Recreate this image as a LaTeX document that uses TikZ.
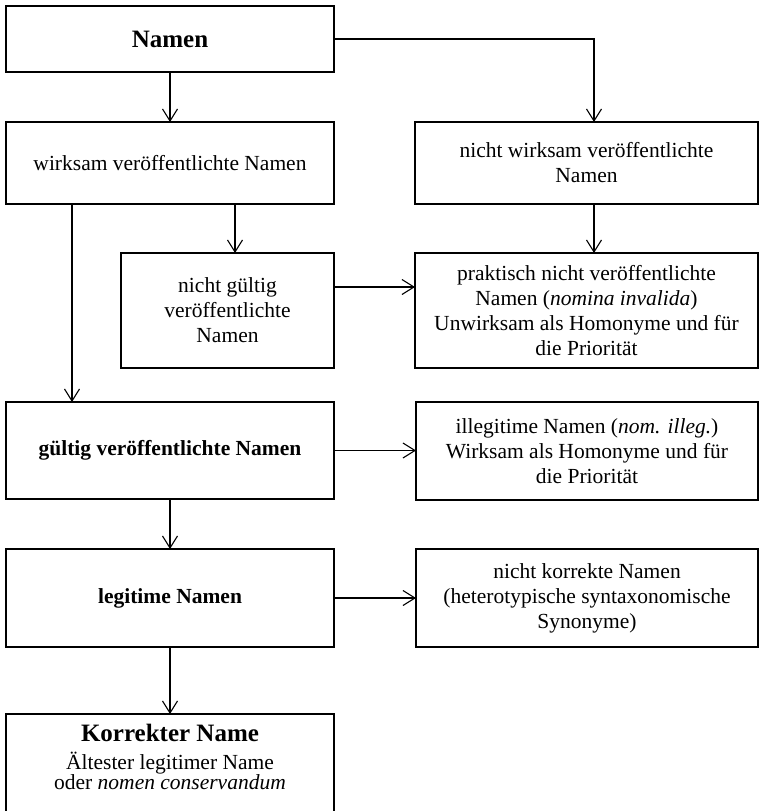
\documentclass[tikz,border=0pt]{standalone}
\usepackage{fontspec}
\setmainfont{Liberation Serif}
\usetikzlibrary{arrows.meta}
\begin{document}
\begin{tikzpicture}[x=1pt,y=-1pt,
  box/.style={draw=black,line width=1.2pt,rectangle,inner sep=0pt,outer sep=0pt,
    align=center,font=\fontsize{21.5}{25}\selectfont},
  txt/.style={align=center,inner sep=0pt,font=\fontsize{21.5}{25}\selectfont},
  arr/.style={line width=1.1pt,-{Straight Barb[length=12pt,width=15pt,line width=1.1pt]}},
  ln/.style={line width=1.1pt}]
\useasboundingbox (0,0) rectangle (761,811);

\node[box,minimum width=328pt,minimum height=66pt] (namen) at (170,39)
  {\fontsize{25}{28}\selectfont\bfseries Namen};
\node[box,minimum width=328pt,minimum height=82pt] (wirksam) at (170,163)
  {wirksam veröffentlichte Namen};
\node[box,minimum width=343pt,minimum height=82pt] (nwirksam) at (586.5,163)
  {nicht wirksam veröffentlichte\\Namen};
\node[box,minimum width=213pt,minimum height=115pt] (ngueltig) at (227.5,310.5)
  {nicht gültig\\veröffentlichte\\Namen};
\node[box,minimum width=343pt,minimum height=115pt] (praktisch) at (586.5,310.5)
  {praktisch nicht veröffentlichte\\Namen (\textit{nomina invalida})\\Unwirksam als Homonyme und für\\die Priorität};
\node[box,minimum width=328pt,minimum height=97pt] (gueltig) at (170,450.5)
  {\bfseries gültig veröffentlichte Namen};
\node[box,minimum width=342pt,minimum height=98pt] (illegitim) at (587,451)
  {illegitime Namen (\textit{nom. illeg.})\\Wirksam als Homonyme und für\\die Priorität};
\node[box,minimum width=328pt,minimum height=98pt] (legitim) at (170,598)
  {\bfseries legitime Namen};
\node[box,minimum width=342pt,minimum height=98pt] (nkorrekt) at (587,598)
  {nicht korrekte Namen\\(heterotypische syntaxonomische\\Synonyme)};
\node[box,minimum width=328pt,minimum height=106pt] (korrekt) at (170,767) {};
\node[txt,anchor=base] (k1) at (170,741.5) {\fontsize{25}{28}\selectfont\bfseries Korrekter Name};
\node[txt,anchor=base] (k2) at (170,769) {Ältester legitimer Name};
\node[txt,anchor=base] (k3) at (170,789) {oder \textit{nomen conservandum}};

\draw[arr] (namen.south) -- (wirksam.north);
\draw[arr] (namen.east) -| ([xshift=7.5pt]nwirksam.north);
\draw[arr] ([xshift=7.5pt]ngueltig.north |- wirksam.south) -- ([xshift=7.5pt]ngueltig.north);
\draw[arr] ([xshift=7.5pt]nwirksam.south) -- ([xshift=7.5pt]praktisch.north);
\draw[arr] ([xshift=-98pt]wirksam.south) -- ([xshift=-98pt]gueltig.north);
\draw[arr] ([yshift=23.5pt]ngueltig.east) -- ([yshift=23.5pt]ngueltig.east -| praktisch.west);
\draw[arr] (gueltig.east) -- (gueltig.east -| illegitim.west);
\draw[arr] (gueltig.south) -- (legitim.north);
\draw[arr] (legitim.east) -- (nkorrekt.west);
\draw[arr] (legitim.south) -- (korrekt.north);
\end{tikzpicture}
\end{document}
